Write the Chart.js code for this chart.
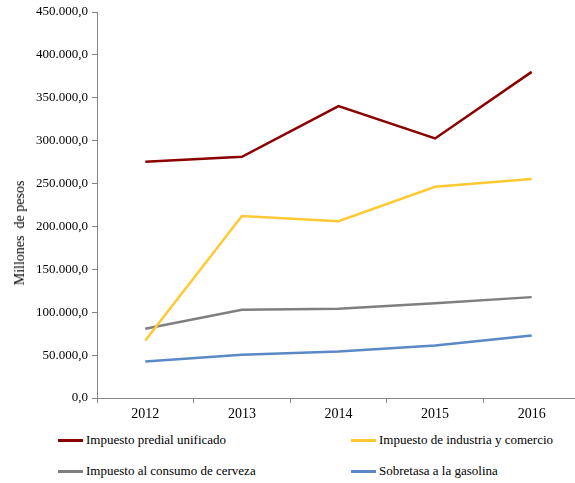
<!DOCTYPE html>
<html lang="es">
<head>
    <meta charset="UTF-8">
    <title>Recaudo tributario</title>
    <script src="https://cdn.jsdelivr.net/npm/chart.js"></script>
    <style>
        html, body {
            margin: 0;
            padding: 0;
            background: #ffffff;
            overflow: hidden;
        }

        .wrap {
            position: relative;
            width: 575px;
            height: 483px;
            font-family: "Liberation Serif", "Times New Roman", serif;
            color: #000;
        }

        canvas {
            position: absolute;
            left: 0;
            top: 0;
        }

        /* rotated axis title */
        .ytitle {
            position: absolute;
            left: 20px;
            top: 233px;
            transform: translate(-50%, -50%) rotate(-90deg);
            font-size: 14px;
            white-space: pre;
        }

        .legend-item {
            position: absolute;
            font-size: 13px;
            line-height: 16px;
            white-space: nowrap;
            transform: translateY(-50%);
        }

        .legend-item span.swatch {
            display: inline-block;
            width: 25px;
            height: 3px;
            margin-right: 3px;
            vertical-align: middle;
            position: relative;
            top: -1px;
        }
    </style>
</head>
<body>
<div class="wrap">
    <canvas id="chart" width="580" height="425"></canvas>
    <div class="ytitle">Millones  de pesos</div>
    <div id="legend"></div>
</div>

<script>
    // Years on the x axis
    const years = ['2012', '2013', '2014', '2015', '2016'];

    // Values in millions of pesos
    const predial = [275400, 281200, 340300, 302600, 380200];
    const industria = [67000, 212200, 206000, 246300, 255300];
    const cerveza = [80700, 102800, 104000, 110600, 117600];
    const gasolina = [42600, 50400, 54200, 61200, 72900];

    const seriesNames = [
        'Impuesto predial unificado',
        'Impuesto de industria y comercio',
        'Impuesto al consumo de cerveza',
        'Sobretasa a la gasolina'
    ];
    const seriesColors = ['#8b0000', '#ffc933', '#7f7f7f', '#5b89c7'];

    const yMax = 450000;
    const yStep = 50000;

    // 450000 -> "450.000,0"
    function fmt(v) {
        const s = Math.round(v).toString().replace(/\B(?=(\d{3})+(?!\d))/g, '.');
        return s + ',0';
    }

    const family = '"Liberation Serif", "Times New Roman", serif';
    const axisGray = '#868686';

    const seriesData = [predial, industria, cerveza, gasolina];

    const chart = new Chart(document.getElementById('chart').getContext('2d'), {
        type: 'line',
        data: {
            labels: years,
            datasets: seriesData.map((d, i) => ({
                label: seriesNames[i],
                data: d,
                borderColor: seriesColors[i],
                backgroundColor: seriesColors[i],
                borderWidth: 2.5,
                pointRadius: 0,
                tension: 0,
                fill: false
            }))
        },
        options: {
            responsive: false,
            animation: false,
            layout: { padding: { top: 12, right: 0, left: 0, bottom: 0 } },
            plugins: {
                legend: { display: false },
                tooltip: { enabled: false }
            },
            scales: {
                x: {
                    offset: true,
                    border: { color: axisGray, width: 1 },
                    grid: {
                        offset: true,
                        drawOnChartArea: false,
                        color: axisGray,
                        tickLength: 5
                    },
                    ticks: { color: '#000', font: { family: family, size: 14 }, padding: 3, maxRotation: 0 },
                    afterFit: function (scale) { scale.height = 27; }
                },
                y: {
                    min: 0,
                    max: yMax,
                    border: { color: axisGray, width: 1 },
                    grid: {
                        drawOnChartArea: false,
                        color: axisGray,
                        tickLength: 5
                    },
                    ticks: {
                        stepSize: yStep,
                        color: '#000',
                        font: { family: family, size: 13 },
                        padding: 4,
                        callback: (v) => fmt(v)
                    },
                    afterFit: function (scale) { scale.width = 97; }
                }
            }
        }
    });

    // Legend in two columns below the chart, built from the datasets
    const legendPos = [[58, 440], [351, 440], [58, 471], [351, 471]];
    const legendEl = document.getElementById('legend');
    chart.data.datasets.forEach((ds, i) => {
        const item = document.createElement('div');
        item.className = 'legend-item';
        item.style.left = legendPos[i][0] + 'px';
        item.style.top = legendPos[i][1] + 'px';
        const sw = document.createElement('span');
        sw.className = 'swatch';
        sw.style.background = ds.borderColor;
        item.appendChild(sw);
        item.appendChild(document.createTextNode(ds.label));
        legendEl.appendChild(item);
    });
</script>
</body>
</html>
